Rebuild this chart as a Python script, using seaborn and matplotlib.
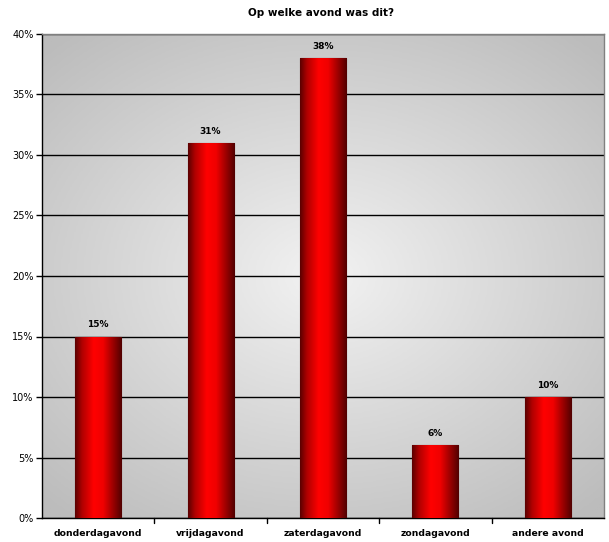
import numpy as np
import pandas as pd
import matplotlib
matplotlib.use("Agg")
import matplotlib.pyplot as plt
import seaborn as sns
from matplotlib.ticker import PercentFormatter, FixedLocator
from matplotlib.colors import LinearSegmentedColormap

categories = ["donderdagavond", "vrijdagavond", "zaterdagavond", "zondagavond", "andere avond"]
values = [15, 31, 38, 6, 10]
title = "Op welke avond was dit?"

sns.set_theme(style="white")
plt.rcParams["font.family"] = ["DejaVu Sans"]
plt.rcParams.update({"text.color": "black", "xtick.color": "black",
                     "ytick.color": "black", "axes.labelcolor": "black"})

df = pd.DataFrame({"avond": categories, "pct": values})

fig = plt.figure(figsize=(6.09, 5.42), dpi=100)
ax = fig.add_axes([42 / 609, 1 - 518 / 542, 562 / 609, 484 / 542])

sns.barplot(data=df, x="avond", y="pct", ax=ax, width=0.41,
            color="red", edgecolor="#3a0000", linewidth=0.8, zorder=3)

ax.set_ylim(0, 40)
ax.set_xlim(-0.5, len(categories) - 0.5)

# radial grey background
yy, xx = np.mgrid[-1:1:300j, -1:1:300j]
r = np.sqrt((xx * 0.9) ** 2 + (yy * 1.0) ** 2)
bg = np.clip(r / 1.3, 0, 1)
bg_cmap = LinearSegmentedColormap.from_list("bg", ["#f2f2f2", "#bcbcbc"])
ax.imshow(bg, cmap=bg_cmap, extent=[-0.5, len(categories) - 0.5, 0, 40],
          aspect="auto", zorder=0, vmin=0, vmax=1)

# bar gradient: dark edges, bright centre
bar_cmap = LinearSegmentedColormap.from_list(
    "bar", [(0, "#5a0000"), (0.15, "#b00000"), (0.4, "#ff0000"), (0.6, "#f00000"), (1, "#500000")])
grad = np.linspace(0, 1, 256).reshape(1, -1)
for p in ax.patches:
    x0, w, h = p.get_x(), p.get_width(), p.get_height()
    im = ax.imshow(grad, cmap=bar_cmap, extent=[x0, x0 + w, 0, h],
                   aspect="auto", zorder=3.5)
    im.set_clip_path(p)
    ax.text(x0 + w / 2, h + 0.6, f"{h:.0f}%", ha="center", va="bottom",
            fontsize=6.5, fontweight="bold", color="black", zorder=5)

ax.yaxis.set_major_locator(FixedLocator(np.arange(0, 41, 5)))
ax.yaxis.set_major_formatter(PercentFormatter(decimals=0))
ax.grid(axis="y", color="black", linewidth=1, zorder=1)
ax.set_axisbelow(True)

ax.set_xlabel("")
ax.set_ylabel("")
ax.tick_params(axis="y", labelsize=7, length=4, width=1, direction="out",
               left=True, color="black", labelcolor="black", pad=2)
ax.tick_params(axis="x", labelsize=6.7, length=0, pad=8, labelcolor="black")
for lab in ax.get_xticklabels():
    lab.set_fontweight("bold")

# boundary tick marks on x axis
for b in np.arange(0.5, len(categories) - 0.5, 1):
    ax.plot([b, b], [0, -0.4], color="black", lw=1, clip_on=False, zorder=6)

for side in ["left", "bottom"]:
    ax.spines[side].set_color("black")
    ax.spines[side].set_linewidth(1)
for side in ["top", "right"]:
    ax.spines[side].set_color("#808080")
    ax.spines[side].set_linewidth(1)

fig.text(321 / 609, 1 - 13 / 542, title, ha="center", va="center",
         fontsize=7.5, fontweight="bold", color="black")

fig.savefig("out.png", dpi=100, facecolor="white")
